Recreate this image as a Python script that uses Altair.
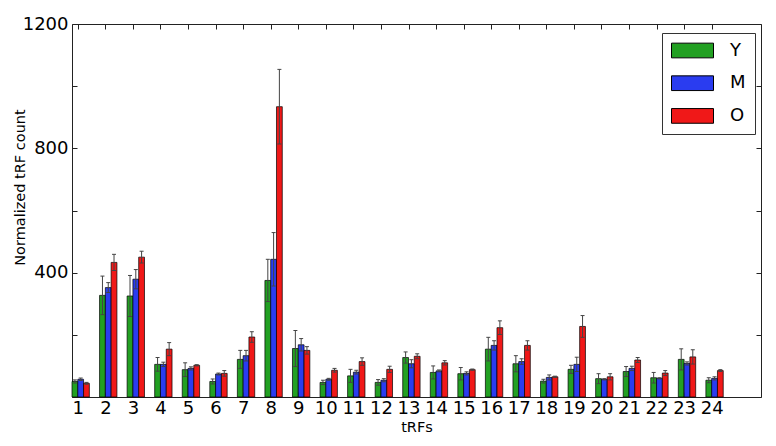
import json
import altair as alt
import pandas as pd

categories = [str(i) for i in range(1, 25)]
series = ["Y", "M", "O"]
colors = ["#22a022", "#2a3cf0", "#f01818"]

y_vals = [50, 327, 325, 105, 88, 50, 121, 375, 156, 47, 68, 47, 127, 79, 75, 154, 107, 51, 89, 59, 82, 62, 121, 54]
y_err = [5, 62, 66, 22, 22, 8, 29, 68, 58, 7, 21, 9, 18, 21, 20, 38, 26, 6, 13, 16, 16, 17, 34, 8]
m_vals = [57, 352, 379, 105, 92, 74, 133, 443, 168, 57, 80, 54, 107, 84, 76, 166, 114, 63, 105, 57, 92, 60, 108, 60]
m_err = [4, 16, 31, 7, 5, 3, 17, 86, 20, 3, 6, 5, 13, 3, 5, 15, 9, 8, 23, 2, 7, 2, 5, 5]
o_vals = [44, 433, 450, 154, 102, 76, 193, 934, 150, 86, 114, 89, 131, 110, 88, 223, 166, 65, 227, 65, 119, 77, 129, 85]
o_err = [3, 26, 19, 21, 2, 9, 17, 120, 12, 6, 12, 10, 8, 7, 2, 22, 15, 2, 35, 10, 8, 8, 23, 3]

y_tick_labels = [400, 800, 1200]
y_tick_marks = [0, 200, 400, 600, 800, 1000, 1200]

W = 0.21  # bar width in group units

rows = []
for k, (s, vals, errs) in enumerate(zip(series, [y_vals, m_vals, o_vals], [y_err, m_err, o_err])):
    for i, (v, e) in enumerate(zip(vals, errs)):
        rows.append({"cat": categories[i], "series": s, "idx": i, "k": k, "value": v, "err": e})
df = pd.DataFrame(rows)

tick_pos = [i + W for i in range(len(categories))]
label_expr = f"{json.dumps(categories)}[round(datum.value - {W})]"

xs = alt.Scale(domain=[0, 25], nice=False, zero=False)
ys = alt.Scale(domain=[0, 1200], nice=False)

base = alt.Chart(df).transform_calculate(
    x0=f"datum.idx + datum.k * {W}",
    x1=f"datum.idx + (datum.k + 1) * {W}",
    xc=f"datum.idx + (datum.k + 0.5) * {W}",
    lo="datum.value - datum.err",
    hi="datum.value + datum.err",
)

bars = base.mark_bar(stroke="black", strokeWidth=0.7).encode(
    x=alt.X("x0:Q", scale=xs, axis=alt.Axis(
        orient="bottom", values=tick_pos, labelExpr=label_expr, title="tRFs",
        ticks=False, domain=False, grid=False, labelFontSize=18, labelPadding=2,
        labelColor="black", titleColor="black", labelFlush=False,
        titleFontSize=14.5, titleFontWeight="normal", titlePadding=3)),
    x2="x1:Q",
    y=alt.Y("value:Q", scale=ys, axis=alt.Axis(
        orient="left", values=y_tick_labels, format="d", ticks=False, domain=False, grid=False,
        labelFontSize=18, labelPadding=4, labelColor="black", titleColor="black",
        title="Normalized tRF count", titleFontSize=14.5, titleFontWeight="normal",
        titleX=-48, titleY=163, titleBaseline="alphabetic", titleAngle=270, titleAlign="center")),
    y2=alt.datum(0),
    color=alt.Color("series:N", scale=alt.Scale(domain=series, range=colors), legend=alt.Legend(
        title=None, orient="none", legendX=590, legendY=9, padding=9,
        strokeColor="#333", fillColor="white",
        symbolType="M-1,-0.35H1V0.35H-1Z", symbolSize=1764,
        symbolStrokeColor="black", symbolStrokeWidth=1, symbolOpacity=1,
        labelFontSize=18, labelOffset=16, labelColor="black",
        clipHeight=17, rowPadding=13.7)),
)

errs = base.mark_rule(color="#444", strokeWidth=1).encode(
    x=alt.X("xc:Q", scale=xs, axis=alt.Axis(
        orient="bottom", offset=-5, values=tick_pos, tickSize=5, tickColor="#222",
        labels=False, domain=False, grid=False, title=None)),
    y=alt.Y("lo:Q", scale=ys, axis=alt.Axis(
        orient="left", offset=-5, values=y_tick_marks, tickSize=5, tickColor="#222",
        labels=False, domain=False, grid=False, title=None)),
    y2="hi:Q",
)

caps_hi = base.mark_tick(orient="horizontal", size=4, thickness=1, color="#444", opacity=1).encode(
    x=alt.X("xc:Q", scale=xs, axis=alt.Axis(
        orient="top", offset=-5, values=tick_pos, tickSize=5, tickColor="#222",
        labels=False, domain=False, grid=False, title=None)),
    y=alt.Y("hi:Q", scale=ys, axis=alt.Axis(
        orient="right", offset=-5, values=y_tick_marks, tickSize=5, tickColor="#222",
        labels=False, domain=False, grid=False, title=None)),
)

caps_lo = base.mark_tick(orient="horizontal", size=4, thickness=1, color="#444", opacity=1).encode(
    x=alt.X("xc:Q", scale=xs, axis=None),
    y=alt.Y("lo:Q", scale=ys, axis=None),
)

chart = alt.layer(bars, errs, caps_hi, caps_lo).resolve_axis(
    x="independent", y="independent"
).properties(
    width=689, height=373,
    autosize=alt.AutoSizeParams(type="none"),
    padding={"left": 64, "top": 16, "right": 7, "bottom": 41},
).configure(
    font="DejaVu Sans",
).configure_view(
    stroke="#222", strokeWidth=1,
)

chart.save("out.html", embed_options={"renderer": "svg", "actions": False})
